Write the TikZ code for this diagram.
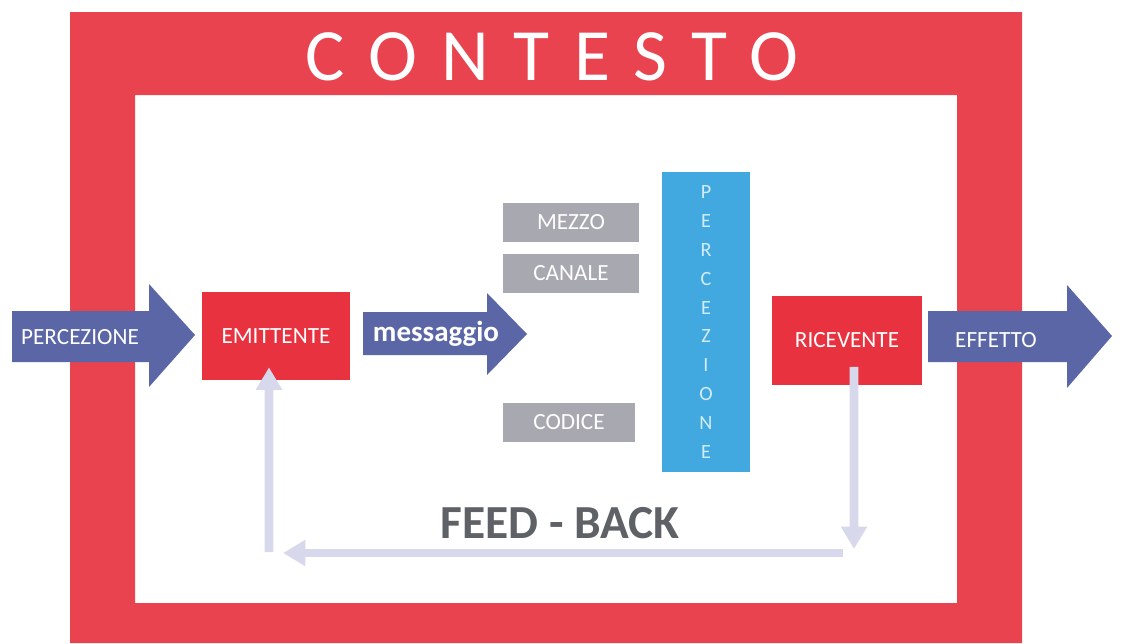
\documentclass[tikz,border=0pt]{standalone}
\usepackage{fontspec}
\setmainfont{Carlito}
\newfontfamily\widefont[LetterSpace=33]{Carlito}
\usetikzlibrary{positioning,arrows.meta}
\definecolor{framered}{HTML}{E8434F}
\definecolor{boxred}{HTML}{E8323F}
\definecolor{slate}{HTML}{5A66A6}
\definecolor{boxgray}{HTML}{A8A8B0}
\definecolor{barblue}{HTML}{42A8E0}
\definecolor{bartext}{HTML}{D2ECFA}
\definecolor{fbline}{HTML}{D8D8EC}
\definecolor{fbtext}{HTML}{5E6166}

\begin{document}
\begin{tikzpicture}[x=0.02cm, y=-0.02cm, font=\fontsize{13.2}{15}\selectfont,
  redbox/.style={fill=boxred, text=white, inner sep=0pt},
  graybox/.style={fill=boxgray, text=white, minimum width=2.74cm, minimum height=0.78cm, inner sep=0pt},
  arrowtext/.style={text=white, inner sep=0pt},
  fb/.style={draw=fbline, line width=5pt, -{Triangle[width=0.5cm,length=0.45cm]}}]
\useasboundingbox (0,0) rectangle (1122,643);
% contesto frame
\fill[framered, even odd rule] (70,12) rectangle (1022,643) (135,95) rectangle (957,603);
\node (contesto) at (552,57) {\widefont\fontsize{42}{44}\selectfont\color{white}CONTESTO};
% block arrows
\fill[slate] (12,311) -- (149,311) -- (149,284) -- (195,335) -- (149,387) -- (149,362) -- (12,362) -- cycle;
\fill[slate] (363,312) -- (487,312) -- (487,293) -- (527,334) -- (487,375) -- (487,355) -- (363,355) -- cycle;
\fill[slate] (928,311) -- (1067,311) -- (1067,285) -- (1112,336) -- (1067,388) -- (1067,362) -- (928,362) -- cycle;
\node[arrowtext] (percin) at (80,337) {PERCEZIONE};
\node[arrowtext, font=\fontsize{16.5}{18}\selectfont\bfseries] (msg) at (436,334) {messaggio};
\node[arrowtext] (effetto) at (996,340) {EFFETTO};
% boxes
\node[redbox, minimum width=2.96cm, minimum height=1.76cm] (emit) at (276,336) {EMITTENTE};
\node[graybox] (mezzo) at (571,222) {MEZZO};
\node[graybox] (canale) at (571,273) {CANALE};
\node[graybox, minimum width=2.64cm] (codice) at (569,422) {CODICE};
\node[fill=barblue, text=bartext, minimum width=1.76cm, minimum height=6cm, align=center,
  font=\fontsize{11.5}{16.4}\selectfont] (percbar) at (706,322) {P\\E\\R\\C\\E\\Z\\I\\O\\N\\E};
\node[redbox, minimum width=3.02cm, minimum height=1.78cm] (ricev) at (847,340) {RICEVENTE};
% feed-back
\coordinate (fbr) at (854,553);
\coordinate (fbl) at (269,553);
\draw[fb] ([xshift=0.14cm,yshift=0.36cm]ricev.south) -- ([yshift=0.08cm]fbr);
\draw[fb] ([xshift=-0.22cm]fbr) -- ([xshift=0.28cm]fbl);
\draw[fb] ([yshift=0.02cm]fbl) -- ([xshift=-0.14cm,yshift=0.26cm]emit.south);
\node[text=fbtext, font=\fontsize{27}{30}\selectfont\bfseries] (feedback) at (560,523) {FEED - BACK};
\end{tikzpicture}
\end{document}
